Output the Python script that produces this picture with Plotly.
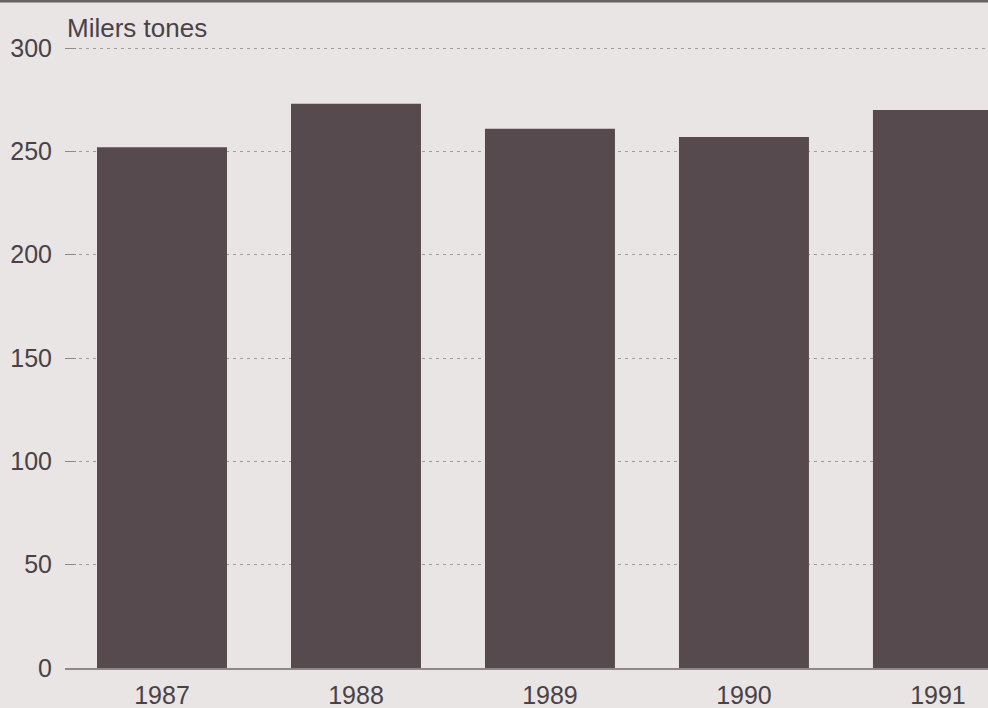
import plotly.graph_objects as go

years = ["1987", "1988", "1989", "1990", "1991"]
values = [252, 273, 261, 257, 270]
y_ticks = [0, 50, 100, 150, 200, 250, 300]
unit_label = "Milers tones"

bg = "#e9e5e5"
bar_color = "#574a4e"
text_color = "#4a4245"

fig = go.Figure(go.Bar(x=years, y=values, width=0.67, marker=dict(color=bar_color, line=dict(width=0))))

fig.update_layout(
    width=988, height=708,
    margin=dict(l=65, r=0, t=46, b=40),
    paper_bgcolor=bg, plot_bgcolor=bg,
    showlegend=False,
    font=dict(family="Liberation Sans, Arial, sans-serif", size=25, color=text_color),
    xaxis=dict(type="category", range=[-0.5, 4.258], showgrid=False,
               showline=True, linecolor="#8f8789", linewidth=1.5,
               ticks="", ticklabelstandoff=4, fixedrange=True),
    yaxis=dict(range=[0, 301], tickvals=y_ticks, showgrid=True, gridcolor="#a39a9c",
               griddash="3px,4px", gridwidth=1.2, zeroline=False, showline=False,
               ticks="inside", ticklen=11, tickcolor="#8f8789", tickwidth=1,
               ticklabelstandoff=12),
    shapes=[dict(type="line", xref="paper", yref="paper", x0=-0.1, x1=1.0,
                 y0=1 + 45 / 622, y1=1 + 45 / 622, line=dict(color="#6a6264", width=3))],
    annotations=[dict(text=unit_label, xref="paper", yref="paper", x=0.0, y=1,
                      xanchor="left", yanchor="bottom", yshift=1, showarrow=False,
                      font=dict(size=26, color=text_color))],
)

fig.write_html("out.html", config={"displayModeBar": False},
               post_script="document.body.style.margin='0';document.body.style.overflow='hidden';")
